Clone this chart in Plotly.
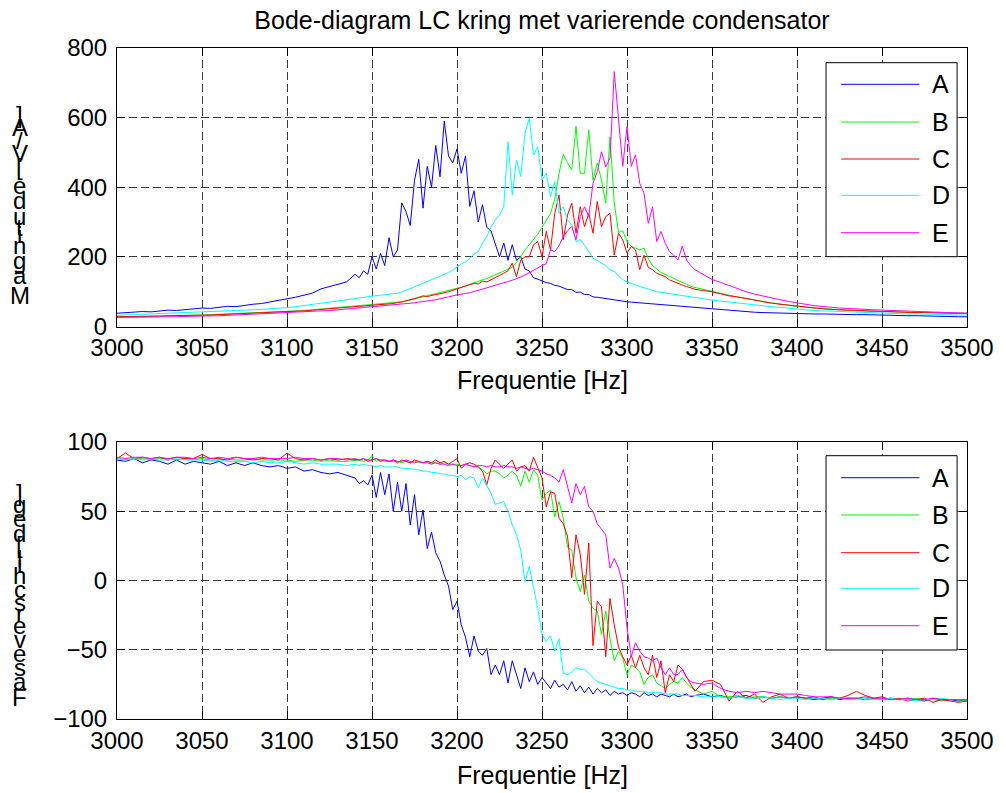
import plotly.graph_objects as go

# ---------------- data ----------------
# sweep frequencies [Hz]: 5 Hz steps outside the resonance band, 2.5 Hz inside it
freq = ([3000 + 5 * i for i in range(29)]
        + [3142.5 + 2.5 * i for i in range(79)]
        + [3340 + 5 * i for i in range(33)])
labels = ["A", "B", "C", "D", "E"]
colors = ["#0000FF", "#00FF00", "#FF0000", "#00FFFF", "#FF00FF"]

# magnitude [V/A]
mag_A = [38, 40, 41, 43, 42, 45, 47, 46, 49, 51,
         53, 52, 55, 58, 57, 61, 64, 66, 70, 74,
         80, 84, 90, 96, 108, 115, 120, 128, 150,
         140, 160, 150, 200, 165, 210, 175, 255,
         200, 220, 355, 330, 290, 420, 480, 340,
         460, 400, 520, 430, 590, 490, 470, 510,
         440, 490, 345, 390, 300, 350, 285, 275,
         240, 200, 240, 190, 235, 190, 200, 165,
         160, 140, 136, 130, 126, 124, 118, 116,
         112, 106, 106, 98, 99, 92, 92, 85,
         84, 82, 80, 77, 76, 74, 73, 71,
         70, 69, 67, 66, 64, 63, 62, 61,
         60, 59, 58, 57, 56, 55, 54,
         53, 51, 49, 47, 45, 44, 42, 41, 40, 39,
         38, 37, 37, 36, 36, 36, 35, 35, 35, 34,
         34, 33, 33, 32, 32, 31, 31, 30, 30, 29,
         29, 28, 28]
mag_B = [28, 28, 29, 29, 30, 30, 31, 31, 32, 32,
         33, 34, 35, 36, 37, 38, 39, 40, 41, 42,
         43, 45, 46, 48, 50, 52, 54, 56, 58,
         59, 60, 61, 62, 63, 64, 65, 66,
         67, 69, 71, 73, 76, 79, 82, 85,
         88, 91, 93, 96, 99, 102, 106, 110,
         113, 117, 121, 124, 128, 133, 138, 143,
         148, 155, 160, 165, 170, 185, 200, 220,
         235, 250, 265, 285, 305, 325, 365, 440,
         495, 470, 450, 575, 440, 440, 565, 420,
         470, 420, 355, 545, 355, 270, 275, 245,
         230, 225, 220, 225, 195, 175, 165, 155,
         150, 143, 138, 132, 128, 122, 115,
         112, 106, 100, 95, 90, 85, 80, 76, 72, 68,
         64, 61, 58, 55, 53, 51, 49, 48, 46, 45,
         44, 43, 43, 42, 41, 41, 40, 40, 39, 39,
         38, 38, 38]
mag_C = [28, 28, 29, 30, 30, 30, 31, 31, 32, 32,
         33, 33, 34, 35, 36, 37, 38, 39, 40, 42,
         43, 44, 45, 47, 49, 51, 53, 55, 57,
         58, 59, 60, 62, 61, 63, 64, 65,
         66, 69, 70, 74, 76, 80, 84, 88,
         86, 90, 92, 94, 96, 100, 104, 108,
         110, 116, 120, 124, 122, 130, 128, 134,
         140, 145, 153, 160, 182, 143, 191, 200,
         200, 235, 244, 200, 273, 220, 325, 378,
         249, 320, 354, 268, 344, 287, 325, 268,
         359, 287, 316, 325, 205, 268, 249, 211,
         230, 220, 163, 205, 170, 163, 153, 148,
         143, 134, 129, 122, 119, 115, 110,
         107, 103, 100, 94, 88, 85, 80, 76, 71, 67,
         64, 61, 58, 55, 53, 51, 49, 48, 46, 45,
         44, 43, 43, 42, 41, 41, 40, 40, 39, 39,
         38, 38, 38]
mag_D = [32, 33, 34, 34, 35, 36, 37, 37, 38, 39,
         40, 41, 42, 43, 45, 46, 48, 49, 51, 52,
         54, 57, 60, 63, 66, 70, 74, 77, 80,
         82, 84, 86, 87, 88, 90, 91, 92,
         94, 96, 99, 104, 108, 114, 118, 124,
         130, 134, 139, 145, 150, 155, 162, 172,
         180, 186, 195, 208, 215, 240, 258, 285,
         306, 320, 344, 531, 378, 478, 431, 555,
         598, 493, 517, 421, 440, 373, 416, 325,
         344, 306, 292, 244, 250, 234, 215, 196,
         190, 182, 175, 163, 158, 145, 135, 128,
         125, 120, 115, 112, 108, 104, 100, 98,
         96, 94, 92, 91, 89, 88, 86,
         84, 80, 76, 73, 70, 67, 64, 62, 59, 57,
         55, 52, 50, 48, 46, 45, 44, 43, 42, 41,
         40, 38, 38, 37, 37, 36, 36, 35, 35, 34,
         34, 33, 33]
mag_E = [26, 26, 27, 27, 28, 28, 28, 28, 29, 29,
         30, 30, 31, 32, 33, 34, 35, 36, 37, 38,
         39, 40, 42, 43, 45, 46, 48, 50, 52,
         53, 54, 55, 56, 57, 58, 59, 60,
         61, 62, 64, 65, 67, 68, 70, 71,
         73, 75, 77, 79, 82, 85, 88, 91,
         93, 95, 97, 100, 104, 107, 111, 115,
         118, 122, 125, 129, 133, 137, 142, 148,
         155, 162, 170, 175, 180, 220, 215, 232,
         258, 275, 287, 249, 316, 344, 316, 411,
         445, 502, 459, 483, 732, 603, 460, 574,
         460, 493, 411, 383, 296, 344, 244, 273,
         239, 215, 205, 191, 231, 191, 175,
         163, 148, 135, 127, 118, 108, 100, 93, 87, 82,
         77, 72, 67, 64, 60, 57, 55, 53, 52, 50,
         49, 48, 47, 46, 45, 44, 43, 43, 42, 41,
         40, 39, 38]

# phase shift [deg]
ph_A = [87, 86, 88, 85, 87, 86, 84, 87, 84, 86,
        85, 84, 86, 83, 85, 83, 85, 83, 82, 83,
        81, 82, 79, 80, 78, 77, 78, 76, 74,
        70, 72, 69, 76, 60, 78, 62, 77,
        50, 71, 50, 70, 40, 62, 33, 51,
        23, 35, 20, 14, 4, -4, -21, -15,
        -32, -41, -55, -40, -51, -54, -49, -68,
        -61, -68, -58, -74, -58, -68, -78, -63,
        -73, -66, -75, -70, -74, -78, -72, -77,
        -75, -79, -73, -80, -76, -81, -77, -82,
        -78, -81, -79, -83, -80, -82, -81, -83,
        -81, -82, -84, -81, -83, -82, -84, -82,
        -83, -84, -82, -84, -83, -82, -84,
        -83, -82, -84, -83, -85, -84, -83, -85, -84, -85,
        -84, -85, -84, -85, -86, -85, -84, -86, -85, -85,
        -86, -85, -86, -85, -86, -85, -86, -87, -85, -86,
        -86, -87, -86]
ph_B = [88, 87, 88, 88, 87, 88, 88, 87, 88, 87,
        88, 87, 87, 88, 87, 87, 88, 87, 87, 87,
        87, 86, 87, 87, 86, 87, 86, 86, 87,
        87, 86, 87, 90, 86, 87, 86, 86,
        86, 86, 85, 86, 85, 86, 85, 85,
        86, 85, 85, 84, 85, 84, 84, 84,
        83, 84, 83, 82, 82, 80, 77, 79,
        79, 77, 74, 76, 79, 76, 68, 79,
        71, 80, 76, 58, 63, 65, 46, 57,
        45, 24, 22, 2, -8, 4, -15, -20,
        -22, -39, -22, -42, -58, -51, -56, -68,
        -61, -63, -66, -75, -70, -68, -74, -76,
        -78, -75, -73, -74, -70, -74, -77,
        -79, -82, -80, -84, -84, -83, -85, -84, -84, -85,
        -84, -85, -84, -85, -85, -86, -85, -85, -86, -85,
        -86, -85, -86, -85, -86, -86, -85, -86, -86, -87,
        -86, -86, -87]
ph_C = [88, 92, 88, 89, 88, 89, 87, 89, 88, 88,
        91, 88, 88, 87, 89, 88, 87, 88, 88, 87,
        92, 88, 87, 88, 87, 88, 87, 88, 87,
        87, 88, 86, 87, 88, 86, 87, 86,
        87, 85, 87, 86, 85, 87, 86, 85,
        86, 85, 87, 85, 86, 84, 86, 88,
        81, 84, 85, 84, 82, 79, 69, 81,
        87, 84, 81, 84, 87, 79, 82, 83,
        79, 89, 81, 74, 53, 64, 63, 45,
        41, 32, 2, 33, 19, -10, 27, -47,
        -15, -19, -55, -13, -32, -48, -55, -61,
        -54, -63, -54, -63, -68, -54, -70, -58,
        -81, -68, -73, -61, -64, -70, -75,
        -80, -73, -72, -75, -87, -80, -85, -82, -88, -84,
        -82, -85, -84, -85, -84, -86, -84, -85, -83, -80,
        -83, -85, -84, -86, -85, -87, -86, -85, -88, -86,
        -87, -88, -87]
ph_D = [88, 87, 88, 87, 88, 87, 87, 88, 87, 87,
        87, 86, 87, 86, 86, 86, 85, 86, 85, 85,
        86, 85, 84, 85, 84, 84, 84, 83, 84,
        83, 84, 83, 83, 82, 83, 82, 82,
        82, 82, 81, 81, 81, 80, 80, 79,
        79, 78, 78, 77, 77, 76, 76, 75,
        76, 73, 75, 74, 67, 74, 69, 63,
        55, 56, 57, 50, 40, 33, 22, -1,
        10, -5, -20, -39, -44, -40, -51, -42,
        -67, -68, -66, -63, -64, -64, -67, -70,
        -73, -74, -75, -76, -77, -78, -78, -79,
        -79, -80, -80, -80, -81, -81, -81, -81,
        -82, -82, -82, -82, -83, -83, -83,
        -83, -84, -84, -84, -85, -84, -85, -85, -84, -85,
        -86, -85, -85, -86, -85, -85, -86, -85, -86, -86,
        -85, -86, -86, -85, -86, -86, -87, -86, -86, -85,
        -86, -86, -86]
ph_E = [89, 88, 89, 89, 88, 89, 88, 89, 89, 88,
        89, 88, 89, 88, 89, 88, 88, 89, 88, 88,
        88, 89, 88, 88, 87, 88, 88, 87, 88,
        87, 88, 87, 87, 88, 87, 87, 86,
        87, 86, 86, 87, 86, 85, 86, 85,
        85, 84, 85, 84, 84, 83, 84, 83,
        83, 84, 83, 82, 83, 83, 82, 83,
        82, 82, 83, 82, 82, 81, 82, 81,
        80, 81, 80, 79, 77, 76, 74, 71,
        80, 67, 56, 70, 62, 68, 53, 50,
        41, 37, 33, 9, 16, 9, -3, -34,
        -55, -45, -51, -55, -56, -58, -56, -63,
        -68, -63, -68, -68, -64, -70, -73,
        -74, -75, -74, -78, -80, -81, -80, -81, -80, -81,
        -82, -82, -82, -83, -84, -84, -84, -85, -85, -85,
        -84, -85, -85, -86, -86, -85, -86, -86, -85, -86,
        -86, -86, -86]

mags = [mag_A, mag_B, mag_C, mag_D, mag_E]
phases = [ph_A, ph_B, ph_C, ph_D, ph_E]

title_text = "Bode-diagram LC kring met varierende condensator"
xlabel_text = "Frequentie [Hz]"
ylabel_top = "Magnitude [V/A]"
ylabel_bottom = "Faseverschil [deg]"
xticks = list(range(3000, 3501, 50))
yticks_top = [0, 200, 400, 600, 800]
yticks_bottom = [-100, -50, 0, 50, 100]

# ---------------- layout helpers ----------------
W, H = 1006, 793
ML, MR, MT, MB = 117, 31, 48, 74
PW, PH = W - ML - MR, H - MT - MB
FONT = "Arial, Liberation Sans, Helvetica, sans-serif"


def px(x):
    return (x - ML) / PW


def py(y):
    return (H - MB - y) / PH


fig = go.Figure()
for lab, col, ys in zip(labels, colors, mags):
    fig.add_trace(go.Scatter(x=freq, y=ys, mode="lines", name=lab,
                             line=dict(color=col, width=1),
                             xaxis="x", yaxis="y", showlegend=False))
for lab, col, ys in zip(labels, colors, phases):
    fig.add_trace(go.Scatter(x=freq, y=ys, mode="lines", name=lab,
                             line=dict(color=col, width=1),
                             xaxis="x2", yaxis="y2", showlegend=False))

axis_common = dict(showline=True, linecolor="black", linewidth=1,
                   mirror="allticks", ticks="inside", ticklen=8,
                   tickcolor="black", tickwidth=1,
                   showgrid=True, gridcolor="#3a3a3a", gridwidth=1,
                   griddash="8px,4px", zeroline=False,
                   tickfont=dict(family=FONT, size=24, color="black"))

fig.update_layout(
    width=W, height=H,
    margin=dict(l=ML, r=MR, t=MT, b=MB, pad=0),
    paper_bgcolor="white", plot_bgcolor="white",
    font=dict(family=FONT, size=24, color="black"),
    showlegend=False,
    title=dict(text=title_text, x=0.5, xref="paper", xanchor="center",
               y=1 - 20 / H, yref="container", yanchor="middle",
               font=dict(family=FONT, size=25, color="black")),
    xaxis=dict(axis_common, domain=[0, 1], anchor="y", range=[3000, 3500],
               tickmode="array", tickvals=xticks),
    yaxis=dict(axis_common, domain=[py(326.5), 1], anchor="x", range=[0, 800],
               tickmode="array", tickvals=yticks_top, ticklabelstandoff=4),
    xaxis2=dict(axis_common, domain=[0, 1], anchor="y2", range=[3000, 3500],
                tickmode="array", tickvals=xticks),
    yaxis2=dict(axis_common, domain=[0, py(442)], anchor="x2", range=[-100, 100],
                tickmode="array", tickvals=yticks_bottom, ticklabelstandoff=4),
)

annotations = []
shapes = []

# x-axis labels
for yc in (380, 775):
    annotations.append(dict(text=xlabel_text, x=0.5, y=py(yc), xref="paper", yref="paper",
                            xanchor="center", yanchor="middle", showarrow=False,
                            font=dict(family=FONT, size=25, color="black")))

# stacked (unrotated) y labels, glyphs advanced by their width
adv = {"M": .833, "a": .556, "g": .556, "n": .556, "i": .222, "t": .278, "u": .556,
       "d": .556, "e": .556, " ": .278, "[": .278, "]": .278, "V": .667, "/": .278,
       "A": .667, "F": .611, "s": .5, "v": .5, "r": .333, "c": .5, "h": .556, "l": .222}


def stacked(text, first_center, scale):
    start = first_center + adv[text[0]] / 2 * scale
    cum = 0.0
    for ch in text:
        w = adv[ch]
        yc = start - (cum + w / 2) * scale
        cum += w
        if ch == " ":
            continue
        annotations.append(dict(text=ch, x=px(19), y=py(yc), xref="paper", yref="paper",
                                xanchor="center", yanchor="middle", showarrow=False,
                                font=dict(family=FONT, size=24, color="black")))


stacked(ylabel_top, 295, 27.5)
stacked(ylabel_bottom, 697, 26.6)

# legends (box, sample lines, labels)
for box, rows in (((832.7, 62.7, 965, 256.7), (84.3, 122, 159, 195.3, 232.7)),
                  ((832.7, 455.7, 965, 650), (477.7, 515, 552.7, 588.3, 625.7))):
    x0, y0, x1, y1 = box
    shapes.append(dict(type="rect", xref="paper", yref="paper", x0=px(x0), x1=px(x1),
                       y0=py(y1), y1=py(y0), fillcolor="white",
                       line=dict(color="black", width=1), layer="above"))
    for lab, col, yr in zip(labels, colors, rows):
        shapes.append(dict(type="line", xref="paper", yref="paper", x0=px(848), x1=px(927),
                           y0=py(yr), y1=py(yr), line=dict(color=col, width=1), layer="above"))
        annotations.append(dict(text=lab, x=px(938), y=py(yr), xref="paper", yref="paper",
                                xanchor="left", yanchor="middle", showarrow=False,
                                font=dict(family=FONT, size=25, color="black")))

fig.update_layout(annotations=annotations, shapes=shapes)

fig.write_html("out.html", config={"displayModeBar": False},
               post_script="document.body.style.margin='0px';")
